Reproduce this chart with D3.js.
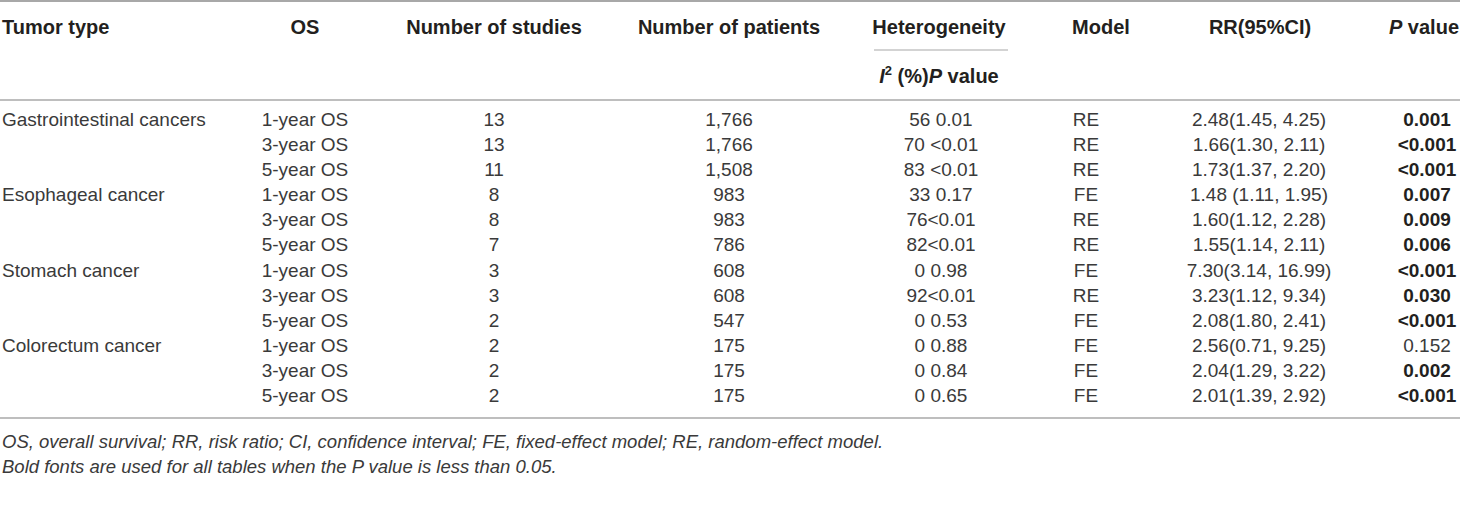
<!DOCTYPE html>
<html>
<head>
<meta charset="utf-8">
<script src="https://cdn.jsdelivr.net/npm/d3@7"></script>
<style>
  body { margin: 0; background: #fff; }
  svg { display: block; font-family: "Liberation Sans", Arial, sans-serif; }
</style>
</head>
<body>
<svg id="chart"></svg>
<script>
// Table data, one array per column
const tumorTypes = ["Gastrointestinal cancers", "", "", "Esophageal cancer", "", "", "Stomach cancer", "", "", "Colorectum cancer", "", ""];
const osLabels = ["1-year OS", "3-year OS", "5-year OS", "1-year OS", "3-year OS", "5-year OS", "1-year OS", "3-year OS", "5-year OS", "1-year OS", "3-year OS", "5-year OS"];
const studies = [13, 13, 11, 8, 8, 7, 3, 3, 2, 2, 2, 2];
const patients = [1766, 1766, 1508, 983, 983, 786, 608, 608, 547, 175, 175, 175];
const heterogeneity = ["56 0.01", "70 <0.01", "83 <0.01", "33 0.17", "76<0.01", "82<0.01", "0 0.98", "92<0.01", "0 0.53", "0 0.88", "0 0.84", "0 0.65"];
const models = ["RE", "RE", "RE", "FE", "RE", "RE", "FE", "RE", "FE", "FE", "FE", "FE"];
const rrCI = ["2.48(1.45, 4.25)", "1.66(1.30, 2.11)", "1.73(1.37, 2.20)", "1.48 (1.11, 1.95)", "1.60(1.12, 2.28)", "1.55(1.14, 2.11)", "7.30(3.14, 16.99)", "3.23(1.12, 9.34)", "2.08(1.80, 2.41)", "2.56(0.71, 9.25)", "2.04(1.29, 3.22)", "2.01(1.39, 2.92)"];
const pValues = ["0.001", "<0.001", "<0.001", "0.007", "0.009", "0.006", "<0.001", "0.030", "<0.001", "0.152", "0.002", "<0.001"];
const headers = ["Tumor type", "OS", "Number of studies", "Number of patients", "Heterogeneity", "Model", "RR(95%CI)"];
const footnotes = [
    "OS, overall survival; RR, risk ratio; CI, confidence interval; FE, fixed-effect model; RE, random-effect model.",
    "Bold fonts are used for all tables when the P value is less than 0.05."
];

const width = 1460;
const height = 505;

const svg = d3.select("#chart")
    .attr("width", width)
    .attr("height", height);

// column anchors (header x / body x)
const cols = [
    { hx: 2, x: 2, anchor: "start" },
    { hx: 305, x: 305, anchor: "middle" },
    { hx: 494, x: 494, anchor: "middle" },
    { hx: 729, x: 729, anchor: "middle" },
    { hx: 939, x: 941, anchor: "middle" },
    { hx: 1101, x: 1086, anchor: "middle" },
    { hx: 1260, x: 1259, anchor: "middle" },
    { hx: 1424, x: 1427, anchor: "middle" }
];

const rowIdx = d3.range(osLabels.length);
const y = d3.scalePoint()
    .domain(rowIdx)
    .range([119, 395]);

const fmt = d3.format(",");
const pNum = s => +s.replace("<", "");

// rules
const rules = [
    { y: 1, x0: 0, x1: width, w: 2 },
    { y: 100, x0: 0, x1: width, w: 1.5 },
    { y: 418, x0: 0, x1: width, w: 1.5 },
    { y: 50, x0: 874, x1: 1008, w: 1.2 }
];
svg.selectAll("line.rule")
    .data(rules)
    .enter()
    .append("line")
    .attr("class", "rule")
    .attr("x1", d => d.x0)
    .attr("x2", d => d.x1)
    .attr("y1", d => d.y)
    .attr("y2", d => d.y)
    .style("stroke", "#a8a8a8")
    .style("stroke-width", d => d.w);

// header
const head = svg.append("g")
    .style("font-size", "20px")
    .style("font-weight", "bold")
    .style("fill", "#231f20");

head.selectAll("text.h")
    .data(headers)
    .enter()
    .append("text")
    .attr("class", "h")
    .attr("x", (d, i) => cols[i].hx)
    .attr("y", 34)
    .attr("text-anchor", (d, i) => cols[i].anchor)
    .text(d => d);

const pHead = head.append("text")
    .attr("x", cols[7].hx)
    .attr("y", 34)
    .attr("text-anchor", "middle");
pHead.append("tspan").style("font-style", "italic").text("P");
pHead.append("tspan").text(" value");

const sub = head.append("text")
    .attr("x", cols[4].hx)
    .attr("y", 83)
    .attr("text-anchor", "middle");
sub.append("tspan").style("font-style", "italic").text("I");
sub.append("tspan").attr("dy", -8).style("font-size", "13px").text("2");
sub.append("tspan").attr("dy", 8).text(" (%)");
sub.append("tspan").style("font-style", "italic").text("P");
sub.append("tspan").text(" value");

// body rows
const body = svg.append("g")
    .style("font-size", "19px")
    .style("fill", "#3a3a3a");

const rows = body.selectAll("g.row")
    .data(rowIdx)
    .enter()
    .append("g")
    .attr("class", "row")
    .attr("transform", i => `translate(0,${y(i) + 7})`);

const cellText = [
    i => tumorTypes[i],
    i => osLabels[i],
    i => studies[i],
    i => fmt(patients[i]),
    i => heterogeneity[i],
    i => models[i],
    i => rrCI[i],
    i => pValues[i]
];

cols.forEach((c, ci) => {
    const isBold = i => ci === 7 && pNum(pValues[i]) < 0.05;
    rows.append("text")
        .attr("x", c.x)
        .attr("text-anchor", c.anchor)
        .style("font-weight", i => isBold(i) ? "bold" : "normal")
        .style("fill", i => isBold(i) ? "#231f20" : null)
        .text(i => cellText[ci](i));
});

// footnotes
svg.append("g")
    .style("font-size", "18.5px")
    .style("font-style", "italic")
    .style("fill", "#3a3a3a")
    .selectAll("text")
    .data(footnotes)
    .enter()
    .append("text")
    .attr("x", 2)
    .attr("y", (d, i) => 448 + i * 25)
    .text(d => d);
</script>
</body>
</html>
